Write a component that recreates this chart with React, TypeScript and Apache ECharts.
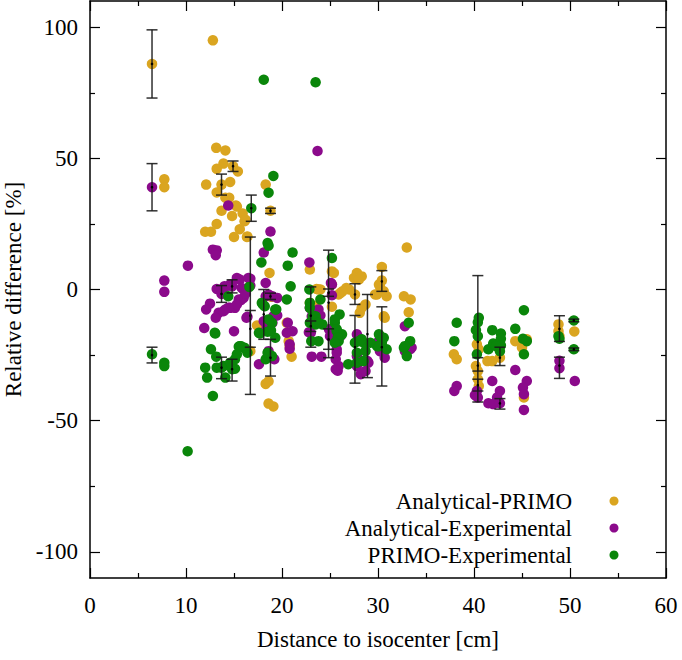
import React, { useEffect, useRef } from "react";
import * as echarts from "echarts";

const seriesNames = ["Analytical-PRIMO", "Analytical-Experimental", "PRIMO-Experimental"];
const seriesColors = ["#DAA520", "#8B0A8B", "#0A860A"];

const yMajorTicks = [-100, -50, 0, 50, 100];
const yMinorTicks = [-75, -25, 25, 75];

const analyticalPrimo: number[][] = [
  [6.46, 86], [12.8, 95], [7.74, 42], [7.74, 39],
  [13.15, 54], [14.1, 53], [13.9, 48], [13.2, 46], [14.9, 47], [13.7, 40], [12.1, 40], [14.6, 41], [13.2, 37], [14.1, 35], [14.5, 35],
  [15.2, 32], [13.7, 30], [14.8, 28], [15.9, 29], [16.1, 26], [13.2, 25], [15.6, 23], [12.0, 22], [12.6, 22], [15.0, 20], [16.35, 20],
  [15.4, 45], [15.3, 31.6], [16.2, 26.6], [16.4, 20.2],
  [18.8, 30], [18.3, 40], [18.7, 6.3], [18.3, -36], [18.6, -35], [18.6, -43.5], [19.1, -44.6], [17.4, -13.7], [16.7, -23.5], [18.9, -2.8],
  [17.6, -14], [18.3, -14.6], [20.7, -19.7], [21.0, -25.6], [22.9, 7.6], [23.6, 0.2], [24.0, 0], [25.2, 6.9], [23.8, 0], [22.9, -5.1],
  [23.5, -6.4], [20.5, -12.7], [20.8, -21.6],
  [33.0, 16], [27.8, 6.3], [28.3, 5.0], [27.5, 4.4], [30.4, 8.6], [30.4, 3.4], [30.1, 1.9], [30.2, 1.2], [30.9, -2.6], [29.7, -1.9],
  [32.7, -2.6], [33.4, -3.8], [33.2, -8.7], [30.6, -10.2], [28.7, -5.7], [28.1, -8.9], [26.7, 0.6], [26.1, -1.3], [25.2, 1.9], [25.4, 6.3],
  [28.0, 3.8], [27.0, 0], [26.3, -0.7], [25.9, -1.9], [27.6, -1.9], [25.2, -6.6], [28.3, -7.0], [30.7, -10.8], [29.9, -1.9], [30.6, -0.7],
  [37.9, -24.7], [38.2, -26.6], [40.3, -20.9], [40.5, -22.8], [40.2, -29.2], [40.4, -31.1], [40.4, -34.2], [40.5, -36.8], [41.4, -27.3],
  [41.9, -27.3], [42.7, -26], [44.3, -19.7], [45.0, -22.2], [45.5, -19.0], [45.2, -41.2], [48.8, -13.3], [48.8, -15.9], [48.9, -17.8], [50.45, -16],
];

const analyticalExperimental: number[][] = [
  [6.46, 39], [7.74, 3.4], [7.74, -0.9], [10.2, 9.1], [12.8, 15.2], [13.2, 14.9], [13.1, 13.1], [14.4, 32],
  [13.2, 0.2], [14.1, 1], [15.3, 4.4], [14.6, 1.9], [13.7, -1.7], [14.8, 1.2], [12.5, -5.4], [12.1, -7.6], [13.4, -8.9], [14.1, -7.6],
  [14.6, -7.0], [15.1, -7.0], [13.1, -10.8], [11.9, -14.7], [15.0, -15.9], [15.5, -3.8], [15.6, 3.8],
  [18.8, 22.1], [18.1, 14.1], [16.7, 4.1], [14.0, 1.2], [14.8, 1.5], [16.0, 0], [16.7, 1.5], [16.0, -3.2], [15.7, -4.1], [15.3, -5.7],
  [14.4, -7], [13.9, -8.3], [16.4, -10.4], [19.5, -3.2], [19.1, -10.2], [18.95, -11.4], [17.6, -28.5],
  [16.5, 4.4], [18.3, 2.5], [18.6, -1.9], [19.0, -2.6], [18.3, -2.6], [15.8, 0.6], [16.2, -1.6], [16.3, -10.8], [19.5, -9.9], [19.0, -12.7],
  [18.4, -14.6], [20.6, -12.7], [20.5, -16.5], [21.1, -15.9], [20.8, -20.9], [19.2, -26.6], [18.6, -23.5],
  [22.85, 10.3], [22.9, -7], [23.1, -10.2], [23.0, -16.5], [22.8, -16.3], [23.1, -25.6], [24.1, -25.6], [25.6, -26.6], [25.6, -30.4],
  [23.7, 52.8], [25.2, 1.9], [25.2, -2.2], [23.8, -7.6], [24.0, -9.9], [20.8, -22.6], [25.7, -22.8], [26.1, -17.8], [24.9, -15.2],
  [27.8, -17.1], [27.8, -25.4], [28.9, -27.3], [32.8, -14], [33.35, -22.8], [18.1, -12.1],
  [25.1, 2.5], [25.0, -17.8], [25.7, -24.1], [25.9, -29.2], [25.8, -31], [28.0, -18.4], [27.8, -29.2], [28.2, -32.3], [28.7, -31.1],
  [29.0, -27.9], [30.2, -23.5], [30.7, -26], [29.9, -20.3], [33.0, -21.6], [33.5, -22.2], [32.8, -23.5],
  [38.2, -36.8], [37.95, -38.7], [40.3, -38.7], [40.1, -40.3], [40.4, -41.2], [41.9, -34.9], [42.7, -38.7], [42.4, -41.2], [41.5, -43.4],
  [42.0, -43.7], [42.7, -43.4], [44.3, -30.7], [45.5, -34.9], [45.1, -37.4], [45.2, -39.9], [45.2, -45.9], [48.9, -27.2], [48.9, -30], [50.5, -34.9],
];

const primoExperimental: number[][] = [
  [6.46, -24.7], [7.74, -27.9], [7.74, -29.2], [10.17, -61.7], [18.1, 80], [23.5, 79],
  [14.4, -2.6], [13.0, -16.5], [12.6, -22.8], [13.15, -25.6], [12.0, -29.8], [12.2, -33.6], [13.2, -29.8], [13.9, -29.2], [14.1, -33.6],
  [14.6, -27.9], [15.1, -30.2], [15.5, -21.8], [12.8, -40.6], [13.7, -29.8], [14.8, -30.4],
  [18.6, 36.9], [16.8, 31], [18.5, 17.7], [18.6, 16.7], [17.85, 10.3], [16.6, 1.0], [18.0, -5.7], [18.2, -6.4], [19.4, -7.6], [18.95, -12.7],
  [13.05, -16.8], [18.5, -16.1], [18.85, -15.6], [17.7, -16.8], [15.6, -21.6], [16.1, -22.2], [16.4, -24.1], [18.3, -26.6], [18.95, -25.4],
  [19.1, 43.3], [21.1, 14.1], [20.6, 9.1], [20.9, 1.2], [20.5, -3.8], [17.9, -5.1], [18.6, -11.4], [19.3, -7.6], [19.3, -18.4], [17.6, -16.5],
  [18.8, -15.9], [18.5, -24.1], [16.0, -22.2], [15.7, -21.6], [15.1, -26.6], [15.3, -24.7],
  [22.85, 0], [22.9, -5.1], [23.2, -10.2], [24.0, -3.8], [23.5, -13.3], [24.2, -13.3], [23.8, -19.7], [23.05, -19.7], [25.2, 12.0],
  [22.9, -7], [23.5, -10.2], [23.8, -12.7], [22.9, -12.7],
  [26.0, -9.5], [25.7, -15.9], [26.25, -17.1], [25.9, -19.7], [25.5, -12.7], [28.0, -19.7], [28.5, -20.3], [27.8, -24.1], [27.8, -27.9],
  [26.9, -28.5], [30.2, -17.8], [30.4, -20.3], [30.9, -22.8], [29.9, -21.6], [33.2, -12.7], [33.35, -19.7], [33.0, -25.4], [32.7, -22.2],
  [38.2, -12.7], [37.95, -19.7],
  [25.5, -11.4], [25.7, -15.2], [25.8, -18.4], [25.5, -20.3], [27.6, -20.3], [28.3, -19], [28.7, -23.5], [29.2, -20.3], [28.5, -27.3],
  [30.1, -17.1], [30.6, -18.4], [30.1, -21.6], [32.8, -21.6],
  [40.5, -10.8], [40.4, -12.5], [40.2, -15.5], [40.4, -17.8], [40.3, -24.7], [41.9, -15.5], [41.5, -22.8], [42.0, -20.6], [42.8, -16.8],
  [42.8, -18.8], [42.8, -21.3], [42.3, -21.6], [42.7, -23.5], [44.3, -15], [45.2, -7.9], [45.1, -18.8], [45.5, -19.7], [45.2, -24.7],
  [48.8, -17.8], [48.9, -18.8], [50.4, -11.8], [50.4, -22.8],
];

// error bars: x, centre, low, high
const errX = [6.46, 6.46, 6.46, 13.7, 14.9, 13.7, 14.8, 13.7, 14.8, 16.8, 16.7, 16.7, 18.8, 18.1, 18.8, 18.8, 23.0, 23.0, 24.85, 24.85, 24.85,
  27.6, 27.6, 28.9, 30.4, 30.4, 40.4, 40.4, 40.4, 42.7, 42.7, 48.9, 48.9, 50.4, 50.4];
const errMid = [86, 39, -25, 40, 47, -1.7, 1.2, -29.8, -30.4, 31, -10, -15, 30, -9.5, -2.6, -26, -10, -14, -5, -1.2, -19,
  -1.9, -22, -17, 3.1, -22, -20, -29, -36.5, -26, -43.4, -15, -29, -11.8, -22.8];
const errLow = [73, 30, -28, 36, 45, -4.9, -1.3, -34, -34.9, 26, -40, -22, 29, -19, -3.8, -33, -22, -16, -26, -2.6, -22.8,
  -5.7, -35.7, -33.6, -0.7, -36.8, -42.9, -31.1, -38.7, -29, -45.6, -19.8, -33.9, -12.3, -23.3];
const errHigh = [99, 48, -22, 44, 49, 1.5, 3.7, -25.8, -26.6, 36, 20, -8, 31, 0, -1.4, -19, 1, -12, 15, 0.2, -15,
  2.2, -9.9, -1.9, 7.2, -6.6, 5.3, -26, -34.2, -22, -41.6, -10, -25.8, -11.3, -22.3];

const FONT = "Liberation Serif";

export default function App() {
  const ref = useRef<HTMLDivElement>(null);
  useEffect(() => {
    if (!ref.current) return;
    const chart = echarts.init(ref.current, null, { renderer: "svg" });
    const errData = errX.map((x, i) => [x, errMid[i], errLow[i], errHigh[i]]);
    const axisLine = { show: true, onZero: false, lineStyle: { color: "#000", width: 1.5 } };
    const mkY = (pos: string, ticks: number[], len: number, labels: boolean, line: boolean) => ({
      type: "value",
      position: pos,
      min: -110,
      max: 110,
      axisLine: line ? axisLine : { show: false, onZero: false },
      axisTick: { show: true, inside: true, length: len, customValues: ticks, lineStyle: { color: "#000", width: 1.2 } },
      axisLabel: labels
        ? { show: true, customValues: ticks, color: "#000", fontSize: 23, fontFamily: FONT, margin: 12 }
        : { show: false },
      splitLine: { show: false },
    });
    const mkX = (pos: string, labels: boolean) => ({
      type: "value",
      position: pos,
      min: 0,
      max: 60,
      interval: 10,
      axisLine,
      axisTick: { show: true, inside: true, length: 10, lineStyle: { color: "#000", width: 1.2 } },
      minorTick: { show: true, splitNumber: 2, length: 5, lineStyle: { color: "#000", width: 1.2 } },
      axisLabel: labels ? { show: true, color: "#000", fontSize: 23, fontFamily: FONT, margin: 16 } : { show: false },
      splitLine: { show: false },
      ...(labels
        ? {
            name: "Distance to isocenter [cm]",
            nameLocation: "middle",
            nameGap: 50,
            nameTextStyle: { color: "#000", fontSize: 23, fontFamily: FONT },
          }
        : {}),
    });
    const yLeft: any = mkY("left", yMajorTicks, 10, true, true);
    yLeft.name = "Relative difference [%]";
    yLeft.nameLocation = "middle";
    yLeft.nameGap = 64;
    yLeft.nameTextStyle = { color: "#000", fontSize: 23, fontFamily: FONT };

    const scatter = (name: string, data: number[][], color: string) => ({
      type: "scatter",
      name,
      data,
      symbol: "circle",
      symbolSize: 10.5,
      itemStyle: { color, opacity: 1 },
      xAxisIndex: 0,
      yAxisIndex: 0,
      silent: true,
    });

    const legendGraphics: any[] = [];
    const legendY = [501, 528, 555];
    seriesNames.forEach((n, i) => {
      legendGraphics.push({
        type: "text",
        x: 572,
        y: legendY[i],
        style: { text: n, fill: "#000", fontSize: 23, fontFamily: FONT, textAlign: "right", textVerticalAlign: "middle" },
      });
      legendGraphics.push({
        type: "circle",
        shape: { cx: 614, cy: legendY[i], r: 4.5 },
        style: { fill: seriesColors[i] },
      });
    });

    chart.setOption({
      animation: false,
      backgroundColor: "#fff",
      grid: { left: 90, right: 16, top: 1, bottom: 82, containLabel: false, outerBoundsMode: "none" },
      xAxis: [mkX("bottom", true), mkX("top", false)],
      yAxis: [yLeft, mkY("left", yMinorTicks, 5, false, false), mkY("right", yMajorTicks, 10, false, true), mkY("right", yMinorTicks, 5, false, false)],
      series: [
        scatter(seriesNames[0], analyticalPrimo, seriesColors[0]),
        scatter(seriesNames[1], analyticalExperimental, seriesColors[1]),
        scatter(seriesNames[2], primoExperimental, seriesColors[2]),
        {
          type: "custom",
          name: "errorbars",
          xAxisIndex: 0,
          yAxisIndex: 0,
          silent: true,
          data: errData,
          z: 5,
          renderItem: (params: any, api: any) => {
            const x = api.value(0);
            const m = api.coord([x, api.value(1)]);
            const lo = api.coord([x, api.value(2)]);
            const hi = api.coord([x, api.value(3)]);
            const w = 5.5;
            const st = { stroke: "#1a1a1a", lineWidth: 1.5, opacity: 0.9 };
            return {
              type: "group",
              children: [
                { type: "line", shape: { x1: lo[0], y1: lo[1], x2: hi[0], y2: hi[1] }, style: st },
                { type: "line", shape: { x1: lo[0] - w, y1: lo[1], x2: lo[0] + w, y2: lo[1] }, style: st },
                { type: "line", shape: { x1: hi[0] - w, y1: hi[1], x2: hi[0] + w, y2: hi[1] }, style: st },
                { type: "circle", shape: { cx: m[0], cy: m[1], r: 1.3 }, style: { fill: "#000" } },
              ],
            };
          },
        },
      ],
      graphic: legendGraphics,
    });
    return () => chart.dispose();
  }, []);
  return <div ref={ref} style={{ position: "fixed", left: 0, top: 0, width: 682, height: 660, background: "#fff" }} />;
}
